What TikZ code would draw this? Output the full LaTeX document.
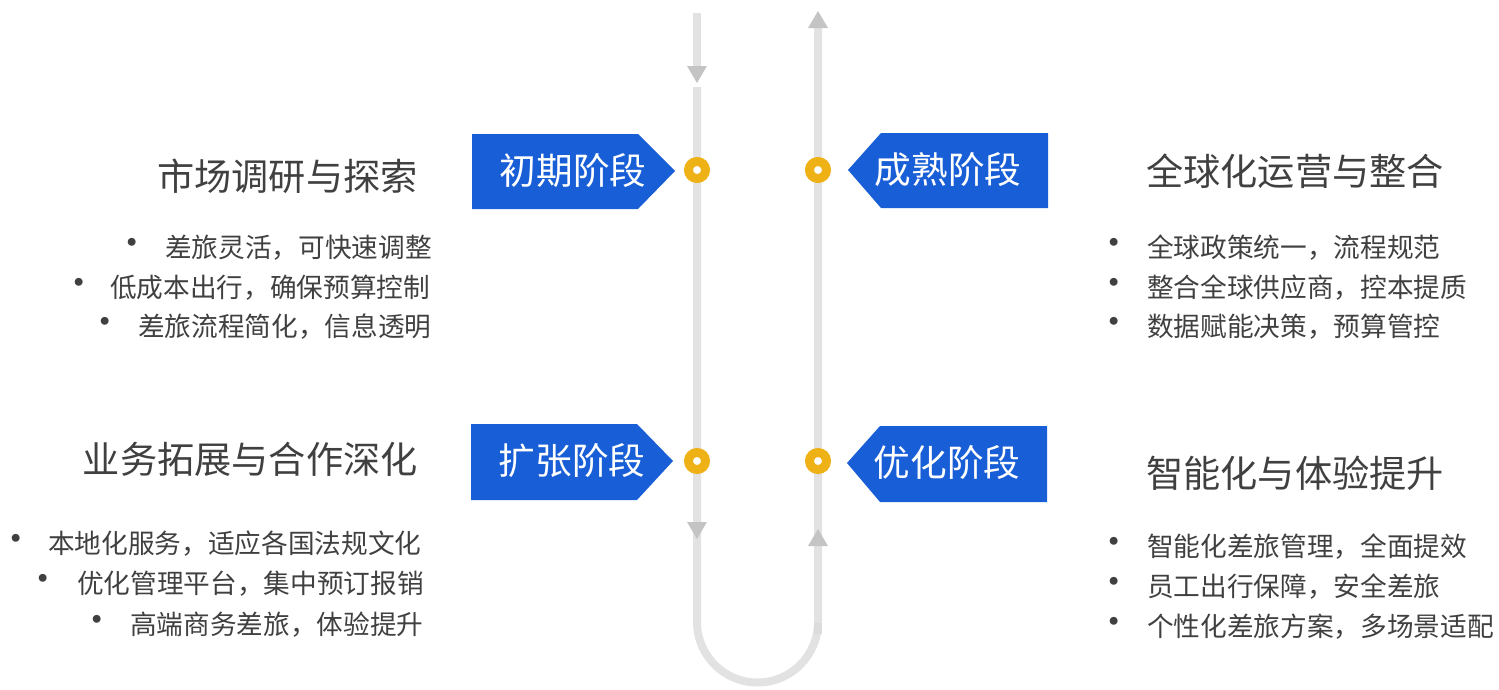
\documentclass[tikz,border=0pt]{standalone}
\usepackage{fontspec}
\setmainfont{Noto Sans CJK SC}
\definecolor{track}{RGB}{226,226,226}
\definecolor{tipgray}{RGB}{196,196,196}
\definecolor{stageblue}{RGB}{24,94,214}
\definecolor{ring}{RGB}{238,178,22}
\definecolor{txt}{RGB}{64,64,64}
\tikzset{
  trackline/.style={draw=track, line width=6pt},
  tiptri/.style={fill=tipgray},
  dotring/.style={circle, draw=ring, line width=6.75pt, fill=white, minimum size=12.75pt, inner sep=0pt},
  stagebox/.style={fill=stageblue},
  stagetext/.style={text=white, font=\fontsize{27.5pt}{30pt}\selectfont, inner sep=0pt},
  titletext/.style={text=txt, font=\fontsize{27.9pt}{30pt}\selectfont, inner sep=0pt},
  itemtext/.style={text=txt, font=\fontsize{20pt}{24pt}\selectfont, inner sep=0pt},
  bulletdot/.style={text=txt, font=\fontsize{28pt}{30pt}\selectfont, inner sep=0pt},
}
\begin{document}
\begin{tikzpicture}[x=0.75pt,y=-0.75pt]
\useasboundingbox (0,0) rectangle (1499,689);
% track
\coordinate (lt) at (697,13);
\coordinate (lta) at (697,68);
\coordinate (lm) at (697,87);
\coordinate (lb) at (697,622);
\coordinate (rt) at (818,28);
\coordinate (rb) at (818,622);
\draw[trackline] (lt) -- (lta);
\draw[trackline] (lm) -- (lb) arc[start angle=180, end angle=360, radius=45.375pt] -- (rt);
\fill[tiptri] (687,66) -- (707,66) -- (697,83) -- cycle;
\fill[tiptri] (687,522) -- (707,522) -- (697,539) -- cycle;
\fill[tiptri] (808,28) -- (828,28) -- (818,11) -- cycle;
\fill[tiptri] (808,546) -- (828,546) -- (818,529) -- cycle;
\fill[tipgray!60] (814,623) rectangle (822,634);
% stage boxes
\fill[stagebox] (472,134) -- (638,134) -- (675,171) -- (638,209) -- (472,209) -- cycle;
\node[stagetext] (s1) at (573,171) {初期阶段};
\fill[stagebox] (471,424) -- (637,424) -- (673,461) -- (637,500) -- (471,500) -- cycle;
\node[stagetext] (s2) at (572,461) {扩张阶段};
\fill[stagebox] (1048,133) -- (881,133) -- (848,170) -- (881,208) -- (1048,208) -- cycle;
\node[stagetext] (s3) at (948,170) {成熟阶段};
\fill[stagebox] (1047,426) -- (880,426) -- (847,463) -- (880,502) -- (1047,502) -- cycle;
\node[stagetext] (s4) at (947,463) {优化阶段};
% rings
\node[dotring] (d1) at (697,170) {};
\node[dotring] (d2) at (697,461) {};
\node[dotring] (d3) at (818,170) {};
\node[dotring] (d4) at (818,461) {};
% left top
\node[titletext, anchor=east] (t1) at (418,176) {市场调研与探索};
\node[bulletdot] (p11) at (132,247) {•};
\node[itemtext, anchor=west] (i11) at (165,248) {差旅灵活，可快速调整};
\node[bulletdot] (p12) at (79,287) {•};
\node[itemtext, anchor=west] (i12) at (110,288) {低成本出行，确保预算控制};
\node[bulletdot] (p13) at (105,326) {•};
\node[itemtext, anchor=west] (i13) at (138,327) {差旅流程简化，信息透明};
% left bottom
\node[titletext, anchor=east] (t2) at (418,459) {业务拓展与合作深化};
\node[bulletdot] (p21) at (16,543) {•};
\node[itemtext, anchor=west] (i21) at (48,544) {本地化服务，适应各国法规文化};
\node[bulletdot] (p22) at (43,583) {•};
\node[itemtext, anchor=west] (i22) at (77,584) {优化管理平台，集中预订报销};
\node[bulletdot] (p23) at (97,624) {•};
\node[itemtext, anchor=west] (i23) at (130,625) {高端商务差旅，体验提升};
% right top
\node[titletext, anchor=west] (t3) at (1146,171) {全球化运营与整合};
\node[bulletdot] (p31) at (1114,247) {•};
\node[itemtext, anchor=west] (i31) at (1147,248) {全球政策统一，流程规范};
\node[bulletdot] (p32) at (1114,287) {•};
\node[itemtext, anchor=west] (i32) at (1147,288) {整合全球供应商，控本提质};
\node[bulletdot] (p33) at (1114,326) {•};
\node[itemtext, anchor=west] (i33) at (1147,327) {数据赋能决策，预算管控};
% right bottom
\node[titletext, anchor=west] (t4) at (1146,473) {智能化与体验提升};
\node[bulletdot] (p41) at (1114,546) {•};
\node[itemtext, anchor=west] (i41) at (1147,547) {智能化差旅管理，全面提效};
\node[bulletdot] (p42) at (1114,586) {•};
\node[itemtext, anchor=west] (i42) at (1147,587) {员工出行保障，安全差旅};
\node[bulletdot] (p43) at (1114,626) {•};
\node[itemtext, anchor=west] (i43) at (1147,627) {个性化差旅方案，多场景适配};
\end{tikzpicture}
\end{document}
